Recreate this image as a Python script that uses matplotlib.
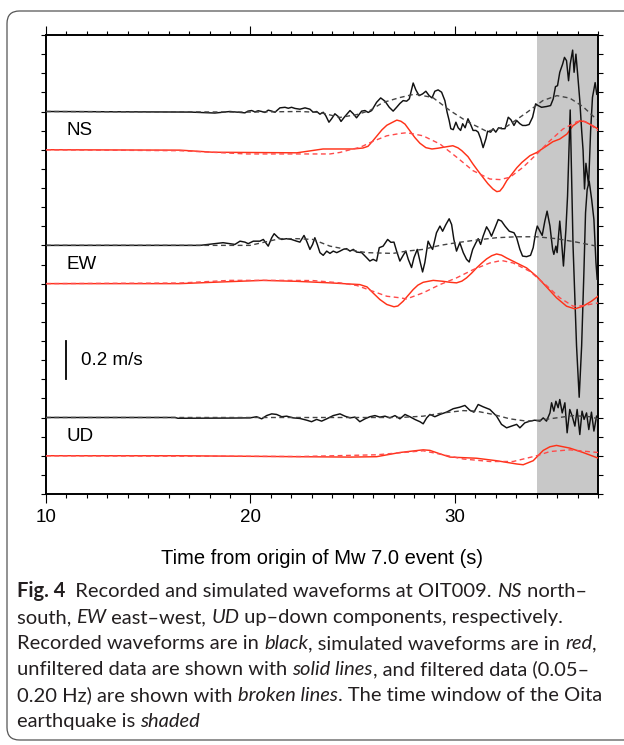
import matplotlib
matplotlib.use("Agg")
import matplotlib.pyplot as plt
from matplotlib.patches import FancyBboxPatch
from matplotlib.ticker import MultipleLocator

# ---------------- data (time in s, velocity in m/s relative to trace baseline) -------------
ns_rec_t = [10.00, 17.04, 18.26, 19.00, 19.73, 19.88, 20.06, 20.22, 20.38, 20.55, 20.71, 20.87, 21.04, 21.20,
            21.44, 21.69, 21.85, 22.01, 22.18, 22.42, 22.67, 22.91, 23.07, 23.24, 23.40, 23.56, 23.68, 23.84,
            23.97, 24.13, 24.29, 24.43, 24.62, 24.87, 25.03, 25.19, 25.44, 25.60, 25.76, 25.93, 26.17, 26.37,
            26.58, 26.79, 26.98, 27.15, 27.31, 27.47, 27.64, 27.77, 27.96, 28.09, 28.25, 28.42, 28.58, 28.74,
            28.88, 29.02, 29.18, 29.35, 29.51, 29.62, 29.72, 29.80, 29.92, 30.05, 30.16, 30.28, 30.38, 30.50,
            30.64, 30.77, 30.89, 31.03, 31.14, 31.26, 31.38, 31.52, 31.60, 31.75, 31.87, 32.00, 32.14, 32.28,
            32.45, 32.61, 32.74, 32.89, 33.02, 33.18, 33.31, 33.47, 33.63, 33.80, 33.95, 34.07, 34.24, 34.48,
            34.68, 34.81, 34.92, 35.02, 35.13, 35.27, 35.36, 35.46, 35.56, 35.64, 35.76, 35.83, 35.92, 36.01,
            36.11, 36.20, 36.27, 36.34, 36.41, 36.54, 36.64, 36.73, 36.86, 36.94]
ns_rec_v = [0.000, -0.003, -0.008, 0.000, -0.007, 0.002, 0.005, -0.002, 0.004, 0.000, -0.005, 0.007, 0.002, -0.004,
            0.019, 0.022, 0.017, 0.022, 0.016, 0.012, 0.019, 0.012, -0.004, 0.000, -0.014, -0.004, -0.021, -0.056,
            -0.038, -0.012, -0.026, -0.052, -0.026, 0.005, -0.012, -0.033, 0.002, 0.005, -0.005, 0.005, 0.048, 0.071,
            0.054, 0.022, 0.002, 0.022, 0.042, 0.057, 0.054, 0.066, 0.149, 0.113, 0.083, 0.092, 0.106, 0.083,
            0.071, 0.106, 0.113, 0.101, 0.057, -0.004, -0.047, -0.090, -0.095, -0.056, -0.085, -0.099, -0.064, -0.085,
            -0.038, -0.068, -0.099, -0.099, -0.108, -0.142, -0.189, -0.142, -0.103, -0.108, -0.090, -0.108, -0.085, -0.090,
            -0.090, -0.030, -0.043, -0.073, -0.047, -0.064, -0.073, -0.073, -0.068, -0.030, 0.040, 0.031, 0.022, 0.026,
            0.031, 0.066, 0.130, 0.135, 0.205, 0.248, 0.283, 0.266, 0.161, 0.248, 0.321, 0.205, 0.300, 0.188,
            0.057, -0.099, -0.203, -0.405, -0.271, -0.385, -0.099, 0.074, 0.151, 0.090]

ns_rec_f_t = [10.00, 19.98, 22.42, 23.40, 24.38, 25.21, 25.84, 26.48, 27.31, 28.04, 28.92, 29.76, 30.59,
              31.56, 32.54, 33.52, 34.30, 34.99, 35.62, 36.26, 36.94]
ns_rec_f_v = [0.000, -0.003, 0.000, -0.005, -0.031, -0.016, 0.005, 0.047, 0.073, 0.091, 0.073, 0.005, -0.052,
              -0.104, -0.078, -0.005, 0.057, 0.083, 0.070, 0.026, -0.042]

ns_sim_t = [10.00, 16.55, 18.17, 22.27, 23.55, 25.01, 25.50, 25.75, 25.99, 26.23, 26.43, 26.67, 26.92, 27.16,
            27.36, 27.56, 27.80, 28.04, 28.29, 28.58, 28.88, 29.17, 29.61, 29.90, 30.15, 30.34, 30.64, 30.88,
            31.12, 31.37, 31.61, 31.86, 32.05, 32.20, 32.35, 32.54, 32.79, 33.03, 33.28, 33.67, 34.01, 34.50,
            34.79, 35.13, 35.48, 35.77, 36.11, 36.36, 36.75, 36.99]
ns_sim_v = [0.000, -0.002, -0.013, -0.016, 0.004, 0.004, 0.009, 0.018, 0.047, 0.078, 0.104, 0.128, 0.142, 0.155,
            0.149, 0.134, 0.099, 0.064, 0.034, 0.011, 0.004, 0.008, 0.016, 0.021, 0.010, -0.005, -0.036, -0.074,
            -0.109, -0.144, -0.177, -0.205, -0.219, -0.216, -0.196, -0.161, -0.127, -0.094, -0.066, -0.031, -0.014, 0.021,
            0.042, 0.056, 0.082, 0.125, 0.151, 0.147, 0.125, 0.109]

ns_sim_f_t = [10.00, 16.55, 19.83, 23.89, 24.38, 25.01, 25.35, 25.99, 26.67, 27.31, 27.65, 28.44, 29.27,
              30.10, 30.88, 31.71, 32.20, 32.69, 33.33, 34.01, 34.65, 35.28, 35.97, 36.26, 36.60, 36.99]
ns_sim_f_v = [0.000, -0.005, -0.022, -0.022, -0.014, 0.004, 0.012, 0.044, 0.073, 0.085, 0.089, 0.073, 0.030,
              -0.040, -0.109, -0.153, -0.156, -0.144, -0.092, -0.022, 0.047, 0.108, 0.147, 0.151, 0.135, 0.099]

ew_rec_t = [10.00, 17.53, 18.66, 19.24, 19.49, 19.73, 19.89, 20.14, 20.46, 20.63, 20.87, 21.04, 21.16, 21.36,
            21.53, 21.77, 22.01, 22.26, 22.42, 22.62, 22.75, 22.91, 23.04, 23.15, 23.27, 23.40, 23.56, 23.73,
            23.89, 24.05, 24.22, 24.38, 24.54, 24.70, 24.87, 25.03, 25.19, 25.44, 25.68, 25.84, 26.00, 26.17,
            26.30, 26.49, 26.71, 26.87, 27.02, 27.15, 27.31, 27.47, 27.60, 27.72, 27.88, 28.00, 28.16, 28.29,
            28.42, 28.53, 28.69, 28.81, 28.91, 29.10, 29.27, 29.40, 29.56, 29.72, 29.84, 29.95, 30.08, 30.24,
            30.41, 30.57, 30.70, 30.87, 31.03, 31.14, 31.26, 31.38, 31.55, 31.68, 31.79, 31.96, 32.12, 32.28,
            32.45, 32.66, 32.89, 33.02, 33.18, 33.31, 33.51, 33.70, 33.83, 33.95, 34.03, 34.16, 34.27, 34.40,
            34.51, 34.65, 34.78, 34.84, 34.94, 35.00, 35.13, 35.21, 35.31, 35.43, 35.51, 35.64, 35.78, 35.95,
            36.08, 36.20, 36.31, 36.39, 36.47, 36.57, 36.69, 36.80, 36.90, 36.96]
ew_rec_v = [0.000, 0.000, 0.014, 0.005, 0.022, 0.017, 0.009, 0.022, 0.022, 0.031, -0.004, 0.040, 0.061, 0.040,
            0.031, 0.035, 0.031, 0.022, 0.017, 0.052, 0.022, -0.021, 0.005, 0.040, 0.005, -0.038, -0.052, -0.030,
            -0.042, -0.030, -0.038, -0.030, -0.021, -0.017, -0.030, -0.021, -0.035, -0.038, -0.064, -0.082, -0.073, -0.082,
            -0.012, -0.004, 0.031, 0.016, 0.017, -0.030, -0.082, -0.052, -0.030, -0.073, -0.116, -0.064, -0.021, -0.082,
            -0.139, -0.090, 0.022, -0.004, -0.021, 0.066, 0.101, 0.074, 0.109, 0.139, 0.109, 0.031, -0.030, 0.014,
            -0.038, -0.073, -0.087, -0.021, 0.014, 0.035, 0.005, 0.048, 0.097, 0.074, 0.048, 0.092, 0.135, 0.127,
            0.101, 0.074, 0.066, 0.040, -0.021, -0.056, -0.059, -0.052, -0.012, 0.066, 0.101, 0.074, 0.052, 0.127,
            0.179, 0.101, -0.021, -0.047, -0.004, -0.038, 0.127, 0.031, -0.108, 0.083, 0.257, 0.708, -0.004, -0.525,
            -0.794, -0.525, -0.142, 0.170, 0.292, 0.335, 0.240, 0.135, -0.090, -0.177]

ew_rec_f_t = [10.00, 19.98, 21.44, 22.27, 23.05, 23.89, 24.70, 25.68, 26.97, 27.64, 28.45, 29.27, 30.08,
              31.06, 32.04, 33.02, 34.00, 34.97, 35.95, 36.93]
ew_rec_f_v = [0.000, 0.000, 0.035, 0.035, 0.031, -0.004, -0.021, -0.038, -0.042, -0.030, -0.021, 0.000, 0.014,
              0.028, 0.040, 0.045, 0.045, 0.035, 0.017, -0.004]

ew_sim_t = [10.00, 16.55, 18.17, 20.61, 22.27, 23.89, 25.35, 25.70, 25.99, 26.33, 26.67, 27.02, 27.21, 27.47,
            27.70, 27.96, 28.19, 28.45, 28.94, 29.43, 29.76, 30.08, 30.34, 30.57, 30.82, 31.06, 31.31, 31.55,
            31.80, 32.04, 32.28, 32.53, 33.02, 33.51, 34.00, 34.48, 34.97, 35.46, 35.87, 36.27, 36.68, 37.00]
ew_sim_v = [0.000, 0.000, 0.007, 0.017, 0.012, 0.004, -0.005, -0.017, -0.048, -0.083, -0.109, -0.121, -0.117, -0.092,
            -0.063, -0.031, -0.008, 0.007, 0.017, 0.012, 0.007, 0.004, 0.013, 0.030, 0.055, 0.082, 0.107, 0.129,
            0.146, 0.155, 0.149, 0.134, 0.108, 0.082, 0.038, -0.017, -0.074, -0.118, -0.132, -0.118, -0.092, -0.066]

ew_sim_f_t = [10.00, 16.55, 19.00, 21.44, 23.05, 24.38, 25.21, 25.99, 26.67, 27.31, 27.64, 28.45, 29.27,
              30.08, 30.89, 31.71, 32.28, 32.85, 33.67, 34.48, 35.13, 35.78, 36.27, 37.00]
ew_sim_f_v = [0.000, 0.003, 0.017, 0.017, 0.016, 0.004, -0.010, -0.040, -0.066, -0.074, -0.080, -0.048, -0.005,
              0.030, 0.073, 0.108, 0.121, 0.108, 0.064, -0.010, -0.074, -0.118, -0.115, -0.101]

ud_rec_t = [10.00, 16.31, 16.45, 19.00, 19.98, 20.30, 20.55, 20.79, 21.04, 21.28, 21.53, 21.77, 22.09, 22.42,
            22.75, 22.99, 23.24, 23.48, 23.73, 24.05, 24.38, 24.62, 24.87, 25.11, 25.35, 25.60, 25.84, 26.09,
            26.33, 26.58, 26.82, 27.07, 27.31, 27.56, 27.80, 28.04, 28.29, 28.45, 28.62, 28.78, 29.02, 29.27,
            29.59, 29.92, 30.24, 30.49, 30.73, 30.93, 31.14, 31.38, 31.71, 32.04, 32.28, 32.53, 32.77, 33.02,
            33.18, 33.42, 33.67, 33.91, 34.16, 34.32, 34.48, 34.65, 34.73, 34.84, 34.94, 35.05, 35.13, 35.25,
            35.38, 35.49, 35.62, 35.74, 35.87, 35.98, 36.11, 36.22, 36.32, 36.44, 36.55, 36.68, 36.80, 36.93]
ud_rec_v = [0.000, 0.000, -0.004, -0.003, -0.002, 0.004, -0.007, 0.010, 0.019, 0.016, 0.004, 0.007, -0.002, -0.005,
            -0.014, -0.022, -0.010, -0.019, -0.007, 0.010, 0.019, 0.007, -0.002, 0.002, -0.022, -0.007, 0.004, 0.010,
            0.002, 0.007, -0.002, 0.010, -0.007, 0.016, 0.004, -0.010, -0.022, -0.033, -0.002, 0.016, 0.004, 0.016,
            0.028, 0.046, 0.054, 0.063, 0.038, 0.028, 0.068, 0.056, 0.042, 0.007, -0.036, -0.054, -0.045, -0.036,
            -0.054, -0.028, -0.019, -0.014, -0.019, -0.002, -0.019, 0.024, 0.077, 0.033, 0.085, 0.051, 0.094, 0.024,
            0.077, -0.080, 0.042, 0.007, -0.045, 0.042, -0.089, 0.033, -0.010, 0.024, -0.063, 0.028, -0.071, 0.007]

ud_rec_f_t = [10.00, 27.31, 28.45, 29.43, 30.41, 31.06, 31.87, 32.69, 33.51, 34.16, 34.97, 35.78, 36.60, 37.00]
ud_rec_f_v = [0.000, 0.000, 0.007, 0.024, 0.036, 0.033, 0.016, -0.007, -0.019, -0.014, -0.002, 0.010, 0.004, -0.007]

ud_sim_t = [10.00, 16.55, 22.42, 24.87, 26.17, 27.31, 28.45, 28.78, 29.27, 29.76, 31.06, 32.04, 33.02, 33.34,
            33.83, 34.32, 34.65, 34.97, 35.62, 36.27, 37.00]
ud_sim_v = [0.000, 0.000, -0.005, -0.007, -0.005, 0.017, 0.031, 0.028, 0.010, -0.007, -0.013, -0.026, -0.043, -0.047,
            -0.026, 0.028, 0.047, 0.054, 0.040, 0.017, -0.012]

ud_sim_f_t = [10.00, 22.42, 26.17, 28.45, 29.43, 30.41, 31.71, 32.85, 34.00, 34.65, 35.62, 37.00]
ud_sim_f_v = [0.000, -0.004, 0.005, 0.026, 0.005, -0.017, -0.030, -0.030, 0.000, 0.022, 0.031, 0.017]

components = ["NS", "EW", "UD"]
rec_offsets = [2.0, 1.3, 0.4]
sim_offsets = [1.8, 1.1, 0.2]
label_levels = [1.9, 1.2, 0.3]
shade_window = (34.0, 37.0)
scale_bar = (0.6, 0.8)
scale_text = "0.2 m/s"
x_label = "Time from origin of Mw 7.0 event (s)"

caption_lines = [
    [("Fig. 4", "bold"), ("  Recorded and simulated waveforms at OIT009. ", "normal"), ("NS", "italic"), (" north–", "normal")],
    [("south, ", "normal"), ("EW", "italic"), (" east–west, ", "normal"), ("UD", "italic"), (" up–down components, respectively.", "normal")],
    [("Recorded waveforms are in ", "normal"), ("black", "italic"), (", simulated waveforms are in ", "normal"), ("red", "italic"), (",", "normal")],
    [("unfiltered data are shown with ", "normal"), ("solid lines", "italic"), (", and filtered data (0.05–", "normal")],
    [("0.20 Hz) are shown with ", "normal"), ("broken lines", "italic"), (". The time window of the Oita", "normal")],
    [("earthquake is ", "normal"), ("shaded", "italic")],
]

# ---------------- figure ----------------
W, H = 624, 745
fig = plt.figure(figsize=(W / 100, H / 100), dpi=100)
fig.patch.set_facecolor("white")

# rounded border
border = FancyBboxPatch((7 / W, 5 / H), 640 / W, 729 / H,
                        boxstyle="round,pad=0,rounding_size=0.02",
                        transform=fig.transFigure, fill=False,
                        edgecolor="#555555", linewidth=0.9, mutation_aspect=W / H)
fig.patches.append(border)

ax = fig.add_axes([46 / W, (H - 494) / H, (598 - 46) / W, (494 - 35) / H])
ax.set_xlim(10, 37)
ax.set_ylim(0, 2.4)
ax.axvspan(*shade_window, color="#c8c8c8", lw=0, zorder=0)

solid_black = dict(color="#111111", lw=1.05, zorder=3)
dash_black = dict(color="#444444", lw=1.0, ls=(0, (3.5, 2.5)), zorder=4)
solid_red = dict(color="#ff3218", lw=1.05, zorder=3)
dash_red = dict(color="#ff4a4a", lw=1.0, ls=(0, (3.5, 2.5)), zorder=4)

rec = [(ns_rec_t, ns_rec_v), (ew_rec_t, ew_rec_v), (ud_rec_t, ud_rec_v)]
rec_f = [(ns_rec_f_t, ns_rec_f_v), (ew_rec_f_t, ew_rec_f_v), (ud_rec_f_t, ud_rec_f_v)]
sim = [(ns_sim_t, ns_sim_v), (ew_sim_t, ew_sim_v), (ud_sim_t, ud_sim_v)]
sim_f = [(ns_sim_f_t, ns_sim_f_v), (ew_sim_f_t, ew_sim_f_v), (ud_sim_f_t, ud_sim_f_v)]

for i in range(3):
    t, v = rec_f[i]
    ax.plot(t, [a + rec_offsets[i] for a in v], **dash_black)
    t, v = rec[i]
    ax.plot(t, [a + rec_offsets[i] for a in v], **solid_black)
    t, v = sim_f[i]
    ax.plot(t, [a + sim_offsets[i] for a in v], **dash_red)
    t, v = sim[i]
    ax.plot(t, [a + sim_offsets[i] for a in v], **solid_red)
    ax.text(11.0, label_levels[i], components[i], fontsize=13.5, family="Liberation Sans",
            ha="left", va="center", zorder=6)

ax.plot([11.0, 11.0], list(scale_bar), color="black", lw=1.3)
ax.text(11.7, sum(scale_bar) / 2, scale_text, fontsize=13.5, family="Liberation Sans",
        ha="left", va="center")

# axes styling
for s in ax.spines.values():
    s.set_linewidth(1.4)
ax.xaxis.set_major_locator(MultipleLocator(10))
ax.xaxis.set_minor_locator(MultipleLocator(1))
ax.yaxis.set_major_locator(MultipleLocator(0.1))
ax.tick_params(axis="x", which="major", direction="out", length=6.5, width=0.8,
               top=True, bottom=True, labelsize=13.5, pad=4)
ax.tick_params(axis="x", which="minor", direction="out", length=3.2, width=0.8, top=True, bottom=True)
ax.tick_params(axis="y", which="major", direction="out", length=3.8, width=0.8,
               left=True, right=True, labelleft=False, labelright=False)
for lab in ax.get_xticklabels():
    lab.set_family("Liberation Sans")
ax.set_xlabel(x_label, fontsize=14.5, family="Liberation Sans")
ax.xaxis.set_label_coords(0.5, -0.12)
ax.xaxis.label.set_va("top")

# ---------------- caption ----------------
renderer = fig.canvas.get_renderer()
cap_family = "Lato"
cap_color = "#231f20"


def seg_width(s, style, size):
    kw = dict(fontsize=size, family=cap_family)
    if style == "bold":
        kw["weight"] = "bold"
    if style == "italic":
        kw["style"] = "italic"
    t1 = fig.text(0, 0, "|" + s + "|", **kw)
    t2 = fig.text(0, 0, "||", **kw)
    w = t1.get_window_extent(renderer).width - t2.get_window_extent(renderer).width
    t1.remove()
    t2.remove()
    return w


base = 12.0
w1 = sum(seg_width(s, st, base) for s, st in caption_lines[0])
cap_size = base * (587 - 17) / w1

y0 = 597
for li, line in enumerate(caption_lines):
    x = 17.0
    yb = y0 + 26 * li
    for s, st in line:
        kw = dict(fontsize=cap_size, family=cap_family, color=cap_color, va="baseline", ha="left")
        if st == "bold":
            kw["weight"] = "bold"
        if st == "italic":
            kw["style"] = "italic"
        fig.text(x / W, 1 - yb / H, s, **kw)
        x += seg_width(s, st, cap_size)

fig.savefig("out.png", dpi=100)
